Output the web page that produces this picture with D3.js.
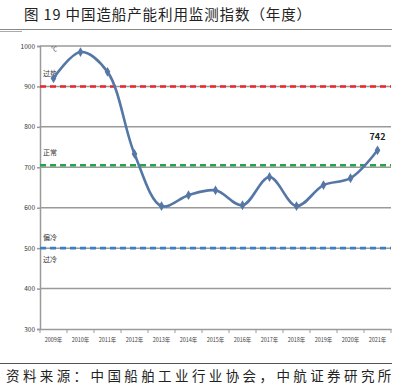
<!DOCTYPE html>
<html>
<head>
<meta charset="utf-8">
<script src="https://cdn.jsdelivr.net/npm/d3@7"></script>
<style>
body { margin: 0; background: #fff; }
text { font-family: "Noto Sans CJK SC", "Noto Sans", sans-serif; }
</style>
</head>
<body>
<div id="main"></div>
<script>
const years = ["2009", "2010", "2011", "2012", "2013", "2014", "2015", "2016", "2017", "2018", "2019", "2020", "2021"]
const index = [920, 985, 936, 733, 604, 631, 643, 606, 676, 604, 656, 673, 742]
const yTicks = [300, 400, 500, 600, 700, 800, 900, 1000]
const zones = [
    { value: 900, color: "#e8262b" },
    { value: 705, color: "#22a44a" },
    { value: 500, color: "#3a7fc1" }
]
const zoneLabels = [
    { text: "过热", value: 925 },
    { text: "正常", value: 730 },
    { text: "偏冷", value: 520 },
    { text: "过冷", value: 465 }
]

let width = 410,
    height = 386

const svg = d3.select("div#main")
    .append("svg")
    .attr("width", width)
    .attr("height", height)

// title + rules
svg.append("text")
    .attr("x", 24).attr("y", 20)
    .attr("font-size", 14.5).attr("fill", "#222")
    .attr("letter-spacing", 0.9)
    .text("图 19 中国造船产能利用监测指数（年度）")
svg.append("line").attr("x1", 0).attr("x2", 392).attr("y1", 29.5).attr("y2", 29.5)
    .attr("stroke", "#888").attr("stroke-width", 1)
svg.append("line").attr("x1", 0).attr("x2", 22).attr("y1", 31.5).attr("y2", 31.5)
    .attr("stroke", "#aaa").attr("stroke-width", 1)

svg.append("line").attr("x1", 0).attr("x2", 392).attr("y1", 363.5).attr("y2", 363.5)
    .attr("stroke", "#555").attr("stroke-width", 1)
svg.append("text")
    .attr("x", 6).attr("y", 381)
    .attr("font-size", 13.5).attr("fill", "#222")
    .attr("letter-spacing", 3.4)
    .text("资料来源：中国船舶工业行业协会，中航证券研究所")

const x = d3.scaleBand().domain(years).range([40, 391])
const y = d3.scaleLinear().domain([300, 1000]).range([329, 46])

// grid
svg.append("g")
    .selectAll("line")
    .data(yTicks.slice(1))
    .join("line")
    .attr("x1", 40).attr("x2", 391)
    .attr("y1", d => y(d)).attr("y2", d => y(d))
    .attr("stroke", "#9a9a9a").attr("stroke-width", 1.5)

// axes
svg.append("g")
    .attr("transform", "translate(40,0)")
    .call(d3.axisLeft(y).tickValues(yTicks).tickFormat(d3.format("d")).tickSize(3).tickPadding(2))
    .call(g => g.selectAll("path, line").attr("stroke", "#9a9a9a").attr("stroke-width", 1.5))
    .call(g => g.selectAll("text").attr("font-size", 6.5).attr("fill", "#333").attr("font-family", "DejaVu Sans Condensed, sans-serif"))

const xAxis = svg.append("g")
    .attr("transform", "translate(0,329)")
    .call(d3.axisBottom(x).tickFormat(d => d + "年").tickSize(0).tickPadding(9))
xAxis.select("path").attr("stroke", "#9a9a9a").attr("stroke-width", 1.5)
xAxis.selectAll("text").attr("font-size", 5.5).attr("fill", "#444")
xAxis.selectAll(".sep")
    .data(years)
    .join("line")
    .attr("class", "sep")
    .attr("x1", d => x(d) + x.bandwidth()).attr("x2", d => x(d) + x.bandwidth())
    .attr("y1", 0).attr("y2", 4)
    .attr("stroke", "#9a9a9a").attr("stroke-width", 1)
xAxis.append("line").attr("x1", 40).attr("x2", 40).attr("y1", 0).attr("y2", 4)
    .attr("stroke", "#9a9a9a").attr("stroke-width", 1)

// threshold lines
svg.append("g")
    .selectAll("line")
    .data(zones)
    .join("line")
    .attr("x1", 40).attr("x2", 391)
    .attr("y1", d => y(d.value)).attr("y2", d => y(d.value))
    .attr("stroke", d => d.color)
    .attr("stroke-width", 2.6)
    .attr("stroke-dasharray", "6,4")

svg.append("g")
    .selectAll("text")
    .data(zoneLabels)
    .join("text")
    .attr("x", 43).attr("y", d => y(d.value))
    .attr("font-size", 7).attr("fill", "#333")
    .text(d => d.text)

svg.append("text").attr("x", 51).attr("y", 51).attr("font-size", 6).attr("fill", "#444").text("℃")

// series
const pts = years.map((d, i) => [x(d) + x.bandwidth() / 2, y(index[i])])
svg.append("path")
    .attr("d", d3.line().curve(d3.curveCatmullRom.alpha(0.5))(pts))
    .attr("fill", "none")
    .attr("stroke", "#5577a6")
    .attr("stroke-width", 2.6)

svg.append("g")
    .selectAll("path")
    .data(pts)
    .join("path")
    .attr("transform", d => `translate(${d[0]},${d[1]})`)
    .attr("d", d3.symbol().type(d3.symbolDiamond).size(28))
    .attr("fill", "#5577a6")

svg.append("text")
    .attr("x", pts[12][0]).attr("y", pts[12][1] - 10)
    .attr("text-anchor", "middle")
    .attr("font-size", 9).attr("font-weight", "bold").attr("fill", "#222")
    .text(index[12])
</script>
</body>
</html>
